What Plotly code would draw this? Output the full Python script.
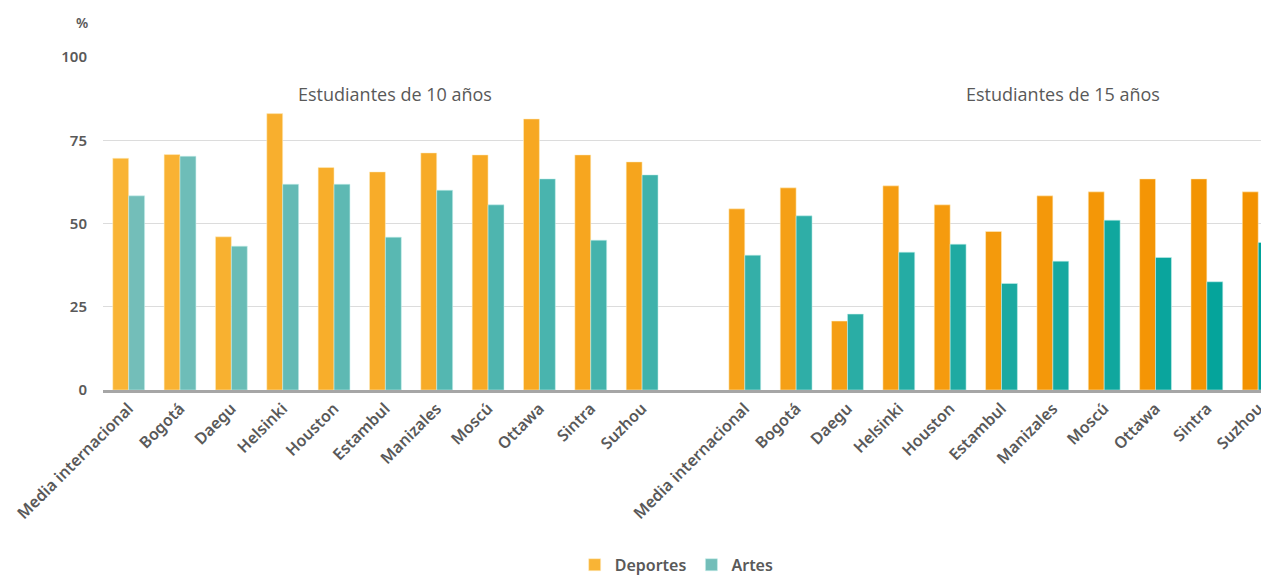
import plotly.graph_objects as go

cities = ["Media internacional", "Bogotá", "Daegu", "Helsinki", "Houston", "Estambul",
          "Manizales", "Moscú", "Ottawa", "Sintra", "Suzhou"]
group_labels = ["Estudiantes de 10 años", "Estudiantes de 15 años"]

deportes_10 = [69.6, 70.7, 46.0, 83.0, 66.8, 65.5, 71.2, 70.6, 81.4, 70.6, 68.5]
artes_10 = [58.3, 70.2, 43.2, 61.8, 61.8, 45.9, 60.0, 55.6, 63.4, 45.0, 64.6]
deportes_15 = [54.4, 60.7, 20.7, 61.3, 55.6, 47.6, 58.3, 59.5, 63.4, 63.4, 59.5]
artes_15 = [40.5, 52.3, 22.8, 41.4, 43.8, 32.0, 38.7, 51.0, 39.8, 32.5, 44.3]

y_ticks = [0, 25, 50, 75, 100]

keys10 = ["10|" + c for c in cities]
keys15 = ["15|" + c for c in cities]
gap = ["gap"]
cat_array = keys10 + gap + keys15
tick_text = cities + [""] + cities

x_keys = keys10 + keys15
dep = deportes_10 + deportes_15
art = artes_10 + artes_15


def lerp(c1, c2, t):
    return "#%02x%02x%02x" % tuple(round(a + (b - a) * t) for a, b in zip(c1, c2))


n = len(cat_array) - 1
pos = [cat_array.index(k) / n for k in x_keys]
orange_cols = [lerp((249, 180, 53), (243, 146, 0), t) for t in pos]
teal_cols = [lerp((115, 190, 185), (0, 163, 154), t) for t in pos]

gray = "#595959"
font_fam = "Open Sans, Noto Sans, sans-serif"
semi_fam = "Noto Sans, Open Sans, sans-serif"

fig = go.Figure()
fig.add_trace(go.Bar(name="Deportes", x=x_keys, y=dep,
                     marker=dict(color=orange_cols, line=dict(width=0.6, color="rgba(255,240,200,0.9)"))))
fig.add_trace(go.Bar(name="Artes", x=x_keys, y=art,
                     marker=dict(color=teal_cols, line=dict(width=0.6, color="rgba(200,240,236,0.9)"))))

# page body has an 8px default margin, so the figure is 8px smaller and margins shifted
fig.update_layout(
    width=1261, height=571,
    margin=dict(l=95, r=0, t=49, b=189, autoexpand=False),
    paper_bgcolor="white", plot_bgcolor="white",
    barmode="group", bargap=0.38, bargroupgap=0,
    font=dict(family=font_fam, color=gray),
    showlegend=True,
    legend=dict(orientation="h", x=0.492, xanchor="center", y=-0.525, yanchor="middle",
                font=dict(family=semi_fam, size=16, color=gray, weight=600), itemwidth=30,
                traceorder="normal"),
    xaxis=dict(type="category", categoryorder="array", categoryarray=cat_array,
               tickmode="array", tickvals=cat_array, ticktext=tick_text,
               tickangle=-45, tickfont=dict(family=semi_fam, size=16, color=gray, weight=600),
               range=[-0.5, 22.21], showline=True, linecolor="#a6a6a6", linewidth=3,
               ticks="", showgrid=False, automargin=False),
    yaxis=dict(range=[0, 100], tickvals=y_ticks, showgrid=True, gridcolor="#dcdcdc",
               gridwidth=1, zeroline=False, ticks="", ticklabelstandoff=15,
               tickfont=dict(family=semi_fam, size=15, color=gray, weight=600), automargin=False),
    annotations=[
        dict(text="%", x=-0.018, y=1.105, xref="paper", yref="paper", showarrow=False,
             xanchor="center", yanchor="middle",
             font=dict(family=semi_fam, size=14, color=gray, weight=600)),
        dict(text=group_labels[0], x=0.2504, y=0.889, xref="paper", yref="paper",
             showarrow=False, xanchor="center", yanchor="middle",
             font=dict(size=18, color=gray)),
        dict(text=group_labels[1], x=0.823, y=0.889, xref="paper", yref="paper",
             showarrow=False, xanchor="center", yanchor="middle",
             font=dict(size=18, color=gray)),
    ],
)

fig.write_html("out.html")
